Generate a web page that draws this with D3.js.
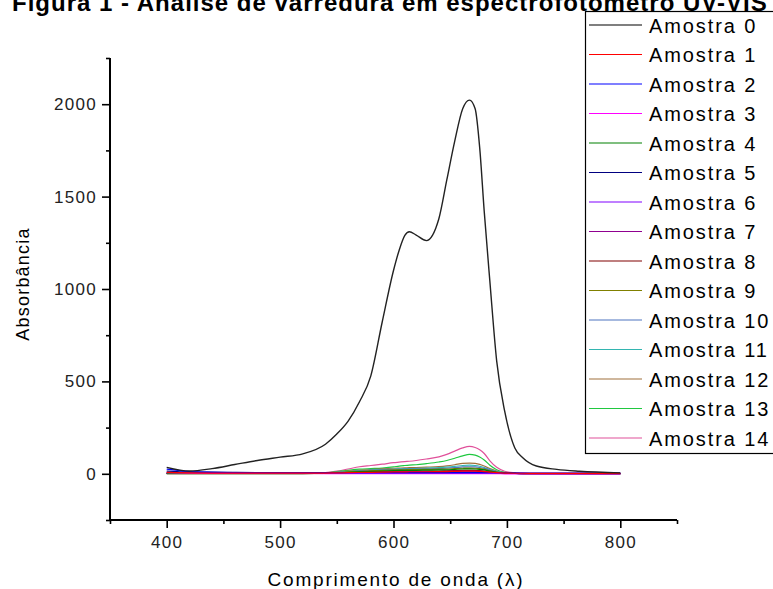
<!DOCTYPE html>
<html>
<head>
<meta charset="utf-8">
<script src="https://cdn.jsdelivr.net/npm/d3@7"></script>
<style>
  body { margin: 0; background: #fff; }
  svg { font-family: Arial, "Liberation Sans", sans-serif; }
</style>
</head>
<body>
<div id="chart"></div>
<script>
// wavelengths (nm) shared by every sample
var wavelength = [400,420,440,460,480,500,520,540,550,560,570,580,590,600,605,610,614,620,629,640,647,654,661,667,672,676,680,685,691,698,707,714,726,744,764,800];

var amostra0  = [35,15,28,50,72,90,108,160,215,285,390,530,820,1100,1210,1290,1310,1292,1262,1380,1590,1800,1975,2022,1975,1765,1420,1040,610,340,140,87,42,24,14,5];
var amostra1  = [8,5,4,4,4,4,4,4,5,6,7,8,9,10,10,10,11,11,11,12,12,13,14,14,14,13,12,9,6,4,3,3,2,2,2,2];
var amostra2  = [25,12,8,6,5,5,5,5,5,5,5,5,5,5,5,5,5,5,5,5,5,5,5,5,5,5,5,5,5,4,4,4,4,4,4,4];
var amostra3  = [6,3,2,2,2,2,2,1,1,1,1,1,1,1,1,1,1,1,1,1,1,1,1,1,1,1,1,1,1,0,0,0,0,0,0,0];
var amostra4  = [2,2,2,2,2,2,2,3,5,8,11,13,15,17,18,18,19,19,20,21,22,24,26,27,26,24,21,14,8,4,2,1,1,1,1,1];
var amostra5  = [15,10,9,8,7,6,5,5,5,5,5,5,5,6,6,6,6,6,6,6,6,7,7,7,7,7,6,5,4,3,2,2,2,2,2,2];
var amostra6  = [4,3,3,3,3,3,3,3,4,5,6,7,8,8,8,9,9,9,9,9,10,10,11,11,11,10,9,7,5,3,2,2,1,1,1,1];
var amostra7  = [3,2,2,2,2,2,2,3,4,5,7,8,9,10,10,11,11,11,12,12,13,14,15,15,15,14,12,9,6,3,2,1,1,1,1,1];
var amostra8  = [1,1,1,1,1,1,1,2,4,6,8,10,12,13,14,14,14,14,15,15,16,17,18,19,18,17,15,11,7,4,2,1,1,1,1,1];
var amostra9  = [2,2,2,2,2,2,2,3,6,10,13,16,19,21,22,22,23,23,24,25,26,28,30,31,30,28,24,16,9,4,2,1,1,1,1,1];
var amostra10 = [3,2,2,2,2,2,2,3,7,11,15,18,21,23,24,25,25,26,27,28,30,33,37,38,37,34,29,20,11,5,2,1,1,1,1,1];
var amostra11 = [2,2,2,2,2,2,2,4,8,12,16,20,23,26,27,28,28,29,31,33,36,40,45,47,45,41,34,23,13,6,2,1,1,1,1,1];
var amostra12 = [2,2,2,2,2,2,2,4,9,14,19,23,27,30,31,32,33,34,36,39,43,49,56,58,56,51,42,28,15,6,3,1,1,1,1,1];
var amostra13 = [1,1,1,1,1,1,1,5,12,19,25,28,31,37,42,45,47,49,55,64,72,84,97,105,101,91,75,46,22,8,3,1,1,1,1,1];
var amostra14 = [2,2,2,2,2,2,2,6,14,26,38,45,52,60,63,66,68,72,80,92,105,123,140,148,142,130,110,70,35,14,5,2,1,1,1,1];

var seriesNames = ["Amostra 0","Amostra 1","Amostra 2","Amostra 3","Amostra 4","Amostra 5","Amostra 6","Amostra 7",
                   "Amostra 8","Amostra 9","Amostra 10","Amostra 11","Amostra 12","Amostra 13","Amostra 14"];
var seriesValues = [amostra0,amostra1,amostra2,amostra3,amostra4,amostra5,amostra6,amostra7,
                    amostra8,amostra9,amostra10,amostra11,amostra12,amostra13,amostra14];
var seriesColors = ["#000000","#ff0000","#0000ff","#ff00ff","#008000","#000080","#8000ff","#900090",
                    "#800000","#808000","#4f74c0","#33b5b0","#a0703c","#20c840","#e0509a"];

var xTicks = [400, 500, 600, 700, 800];
var yTicks = [0, 500, 1000, 1500, 2000];

var svgWidth = 773, svgHeight = 589;
var margin = {top: 58, right: 96, bottom: 69, left: 110};
var chart_width = svgWidth - margin.left - margin.right;
var chart_height = svgHeight - margin.top - margin.bottom;

var svg = d3.select("#chart").append("svg")
  .attr("width", svgWidth)
  .attr("height", svgHeight);

var g = svg.append("g").attr("transform", `translate(${margin.left}, ${margin.top})`);

var x = d3.scaleLinear().domain([350, 850]).range([0, chart_width]);
var y = d3.scaleLinear().domain([-250, 2250]).range([chart_height, 0]);

// axes
var xAxis = d3.axisBottom(x).tickValues(xTicks).tickSize(8).tickPadding(8).tickFormat(d3.format("d"));
var yAxis = d3.axisLeft(y).tickValues(yTicks).tickSize(8).tickPadding(5).tickFormat(d3.format("d"));

var xg = g.append("g").attr("transform", `translate(0, ${chart_height})`).call(xAxis);
var yg = g.append("g").call(yAxis);

// minor ticks
g.append("g").attr("transform", `translate(0, ${chart_height})`)
  .call(d3.axisBottom(x).tickValues(d3.range(350, 851, 100)).tickSize(4).tickFormat(""))
  .select(".domain").remove();
g.append("g")
  .call(d3.axisLeft(y).tickValues(d3.range(-250, 2251, 500)).tickSize(4).tickFormat(""))
  .select(".domain").remove();

g.selectAll(".domain").attr("stroke-width", 2);
xg.select(".domain").attr("d", `M0,0H${chart_width}`);
yg.select(".domain").attr("d", `M0,${chart_height}V0`);
g.selectAll(".tick line").attr("stroke-width", 1.6);
g.selectAll(".tick text").attr("font-size", "17px").attr("fill", "#222").style("letter-spacing", "1.3px");

// lines
var line = d3.line()
  .x(function(d, i) { return x(wavelength[i]); })
  .y(function(d) { return y(d); })
  .curve(d3.curveMonotoneX);

for (var k = seriesValues.length - 1; k >= 1; k--) {
  g.append("path")
    .datum(seriesValues[k])
    .attr("fill", "none")
    .attr("stroke", seriesColors[k])
    .attr("stroke-width", 1.2)
    .attr("d", line);
}
g.append("path")
  .datum(seriesValues[0])
  .attr("fill", "none")
  .attr("stroke", "#222")
  .attr("stroke-width", 1.4)
  .attr("d", line);

// axis titles
svg.append("text")
  .attr("x", 396)
  .attr("y", 586)
  .attr("text-anchor", "middle")
  .attr("font-size", "19px")
  .style("letter-spacing", "1.8px")
  .text("Comprimento de onda (λ)");

svg.append("text")
  .attr("transform", "rotate(-90)")
  .attr("x", -284)
  .attr("y", 29)
  .attr("text-anchor", "middle")
  .attr("font-size", "18px")
  .style("letter-spacing", "1.2px")
  .text("Absorbância");

// legend
var legend = svg.append("g");
legend.append("rect")
  .attr("x", 585.5).attr("y", 11.5)
  .attr("width", 200).attr("height", 442)
  .attr("fill", "#fff").attr("stroke", "#000").attr("stroke-width", 1.2);

var rows = legend.selectAll(".row").data(seriesNames).enter().append("g")
  .attr("transform", function(d, i) { return `translate(0, ${25 + i * 29.5})`; });
rows.append("line")
  .attr("x1", 589).attr("x2", 642)
  .attr("stroke", function(d, i) { return seriesColors[i]; })
  .attr("stroke-width", 1.2);
rows.append("text")
  .attr("x", 649).attr("y", 7.5)
  .attr("font-size", "20px")
  .style("letter-spacing", "1.9px")
  .text(function(d) { return d; });

// title, cut at the top like in the source image (drawn last, above the legend box)
svg.append("text")
  .attr("x", 12)
  .attr("y", 11)
  .attr("font-size", "24px")
  .attr("font-weight", "bold")
  .style("letter-spacing", "1px")
  .text("Figura 1 - Análise de varredura em espectrofotômetro UV-VIS");
</script>
</body>
</html>
